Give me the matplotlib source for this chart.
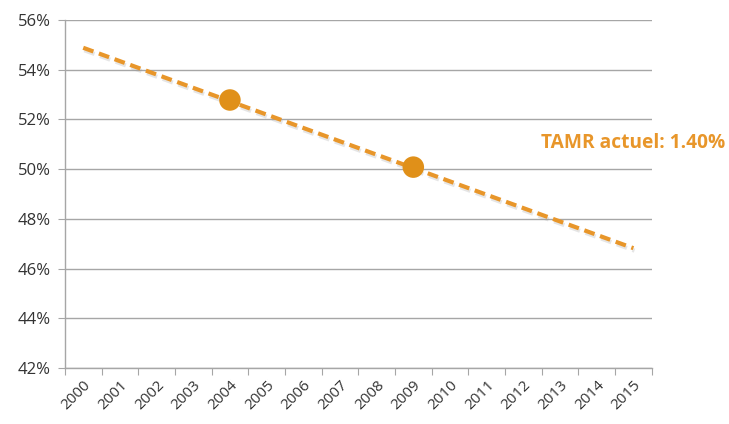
import matplotlib
matplotlib.use("Agg")
import matplotlib.pyplot as plt
import matplotlib.patheffects as pe
from matplotlib.ticker import FixedLocator, FuncFormatter

years = [str(y) for y in range(2000, 2016)]
trend_years = ["2000", "2015"]
trend_values = [54.88, 46.82]
point_years = ["2004", "2009"]
point_values = [52.78, 50.08]
yticks = [42, 44, 46, 48, 50, 52, 54, 56]
annotation = "TAMR actuel: 1.40%"

orange = "#E8962A"
marker_color = "#E09019"
grid_gray = "#A6A6A6"
text_color = "#333333"

plt.rcParams['font.family'] = ['Open Sans', 'DejaVu Sans']

fig = plt.figure(figsize=(7.29, 4.24), dpi=100)
ax = fig.add_axes([0.089, 0.132, 0.805, 0.821])

idx = {y: i for i, y in enumerate(years)}
tx = [idx[y] for y in trend_years]
px = [idx[y] for y in point_years]

ax.plot(tx, trend_values, color=orange, lw=3.0, dashes=(2.6, 1.4), solid_capstyle='butt',
        dash_capstyle='butt', zorder=3,
        path_effects=[pe.SimpleLineShadow(offset=(0.8, -1.8), shadow_color='#9a9a9a', alpha=0.25),
                      pe.Normal()])
ax.scatter(px, point_values, s=240, color=marker_color, zorder=4, edgecolor='none')

ax.set_xlim(-0.5, len(years) - 0.5)
ax.set_ylim(42, 56)
ax.yaxis.set_major_locator(FixedLocator(yticks))
ax.yaxis.set_major_formatter(FuncFormatter(lambda v, p: f"{v:.0f}%"))
ax.grid(axis='y', color=grid_gray, lw=1.0)
ax.set_axisbelow(True)

ax.set_xticks([i - 0.5 for i in range(len(years) + 1)])
ax.set_xticklabels([])
ax.set_xticks(range(len(years)), minor=True)
ax.set_xticklabels(years, minor=True, rotation=45, ha='right', va='top',
                   rotation_mode='anchor', fontsize=11, color=text_color)
ax.tick_params(axis='x', which='minor', length=0, pad=7)
ax.tick_params(axis='x', which='major', length=5, color=grid_gray, direction='out')
ax.tick_params(axis='y', length=5, color=grid_gray, direction='out', labelsize=12,
               labelcolor=text_color, pad=5)

for s in ['top', 'right']:
    ax.spines[s].set_visible(False)
for s in ['left', 'bottom']:
    ax.spines[s].set_color(grid_gray)
    ax.spines[s].set_linewidth(1.0)

fig.text(0.995, 0.662, annotation, ha='right', va='center', fontsize=13.8,
         fontweight='bold', color=orange)

fig.savefig("out.png", dpi=100)
